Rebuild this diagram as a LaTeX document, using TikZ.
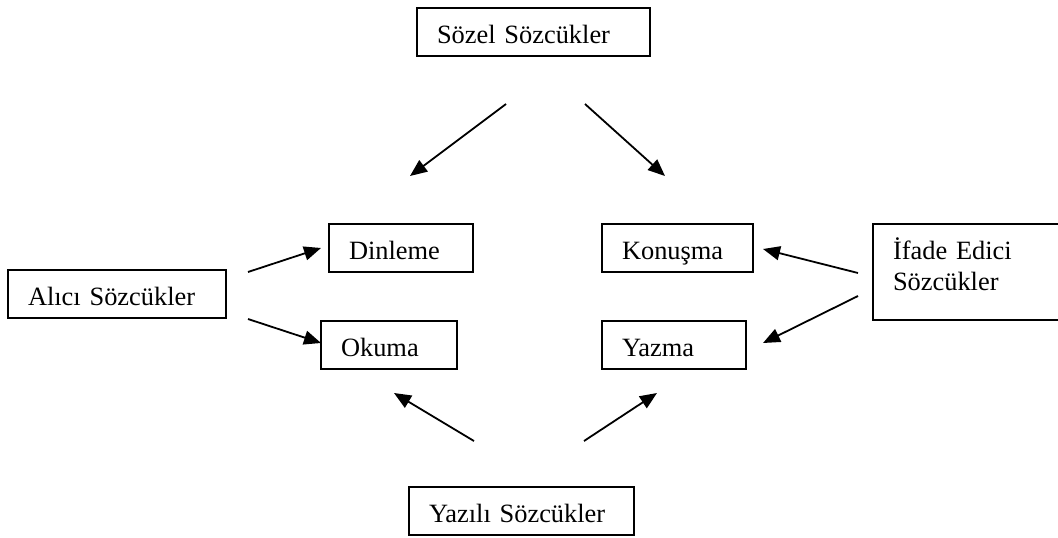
\documentclass[tikz,border=0pt]{standalone}
\usepackage{fontspec}
\setmainfont{Liberation Serif}
\usetikzlibrary{arrows.meta}
\tikzset{
  > = {Triangle[length = 17pt, width = 14pt]},   % plain filled heads
  wordbox/.style = {draw, line width = 1.6pt, anchor = north west, align = left,
    inner xsep = 20pt, inner ysep = 9pt, outer sep = 0pt,
    text height = 26pt, text depth = 4pt,        % same baseline in every box
    font = \fontsize{26.4}{31}\selectfont},
  link/.style = {->, line width = 1.8pt}
}

\begin{document}
\begin{tikzpicture}[x = 1pt, y = -1pt]
\useasboundingbox (0,0) rectangle (1058,538);

%% Word groups
\node [wordbox, text width = 193pt] (sozel) at (417,8) {Sözel Sözcükler};
\node [wordbox, text width = 178pt] (alici) at (8,270) {Alıcı Sözcükler};
\node [wordbox, text width = 170pt, text depth = 52pt] (ifade) at (873,224) {İfade Edici\\Sözcükler};
\node [wordbox, text width = 185pt] (yazili) at (409,487) {Yazılı Sözcükler};

%% Skills
\node [wordbox, text width = 104pt] (dinleme) at (329,224) {Dinleme};
\node [wordbox, text width = 96pt] (okuma) at (321,321) {Okuma};
\node [wordbox, text width = 111pt] (konusma) at (602,224) {Konuşma};
\node [wordbox, text width = 104pt] (yazma) at (602,321) {Yazma};

%% Arrow ends
\coordinate (sd) at (506,104);  \coordinate (sdt) at (410,176);
\coordinate (sk) at (585,104);  \coordinate (skt) at (665,176);
\coordinate (ad) at (248,272);  \coordinate (adt) at (321,248);
\coordinate (ao) at (248,319);  \coordinate (aot) at (321,343);
\coordinate (ik) at (858,273);  \coordinate (ikt) at (763,249);
\coordinate (iy) at (858,296);  \coordinate (iyt) at (763,343);
\coordinate (yo) at (474,441);  \coordinate (yot) at (394,393);
\coordinate (yy) at (584,441);  \coordinate (yyt) at (657,393);

%% Arrows
\foreach \a in {sd, sk, ad, ao, ik, iy, yo, yy}
  \draw [link] (\a) -- (\a t);

\end{tikzpicture}
\end{document}
